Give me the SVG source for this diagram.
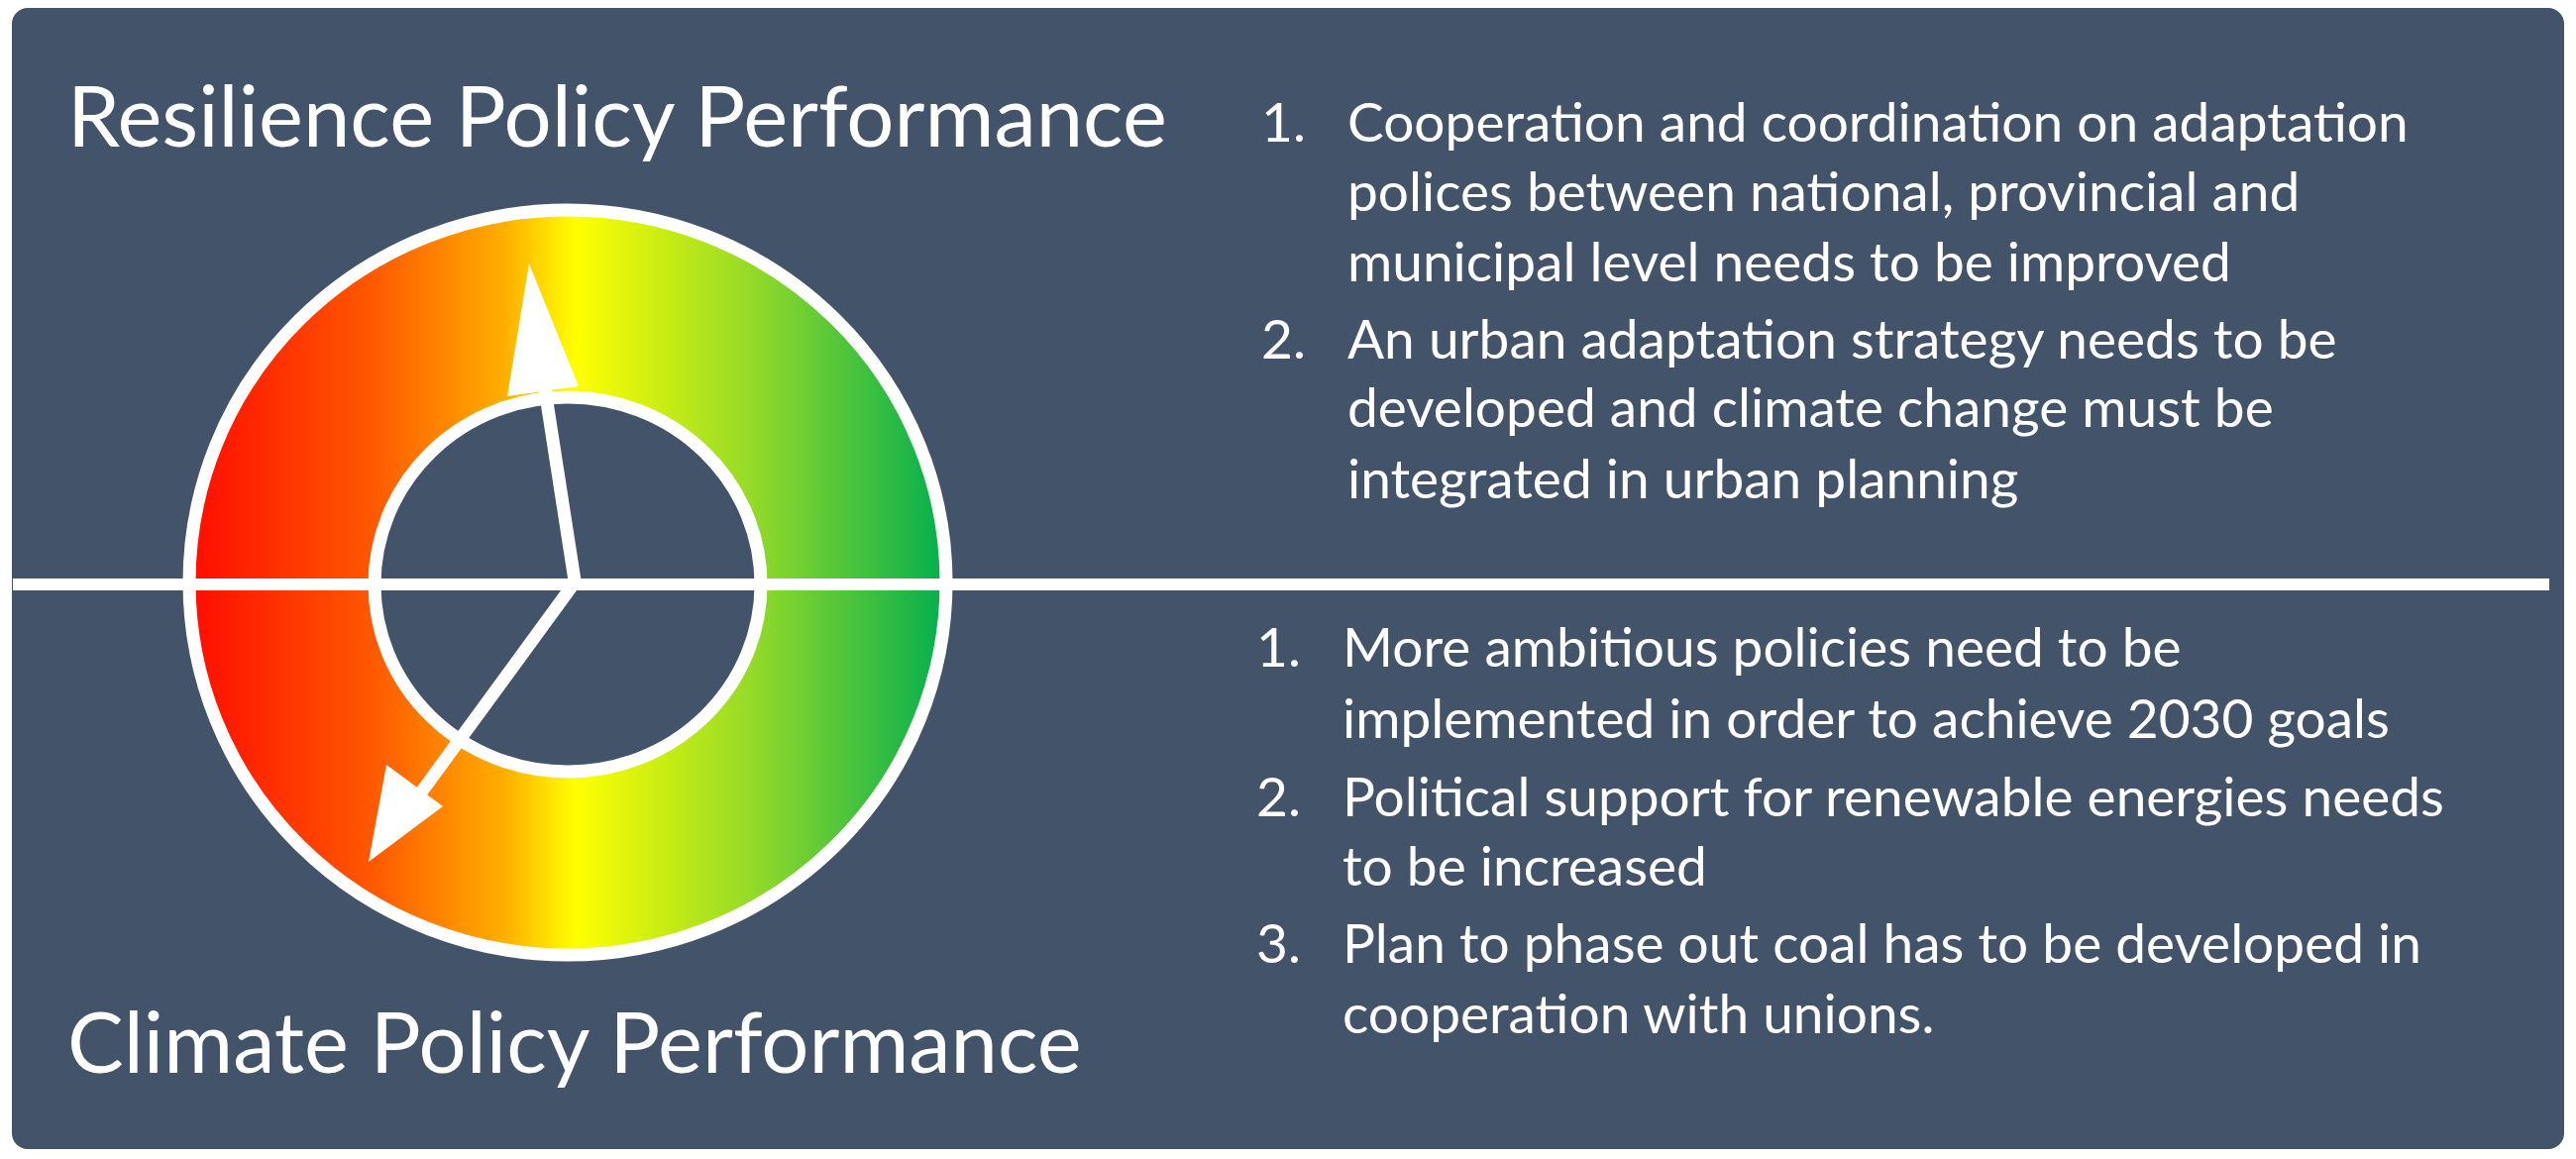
<svg xmlns="http://www.w3.org/2000/svg" width="2600" height="1170" viewBox="0 0 2600 1170">
<style>
.t{font-family:Lato,"Open Sans","Noto Sans",sans-serif;fill:#fff}
.h{font-size:85px}
.b{font-size:55px}
.w{fill:none;stroke:#fff;stroke-width:13}
</style>
<defs>
<linearGradient id="g" x1="186" y1="0" x2="960" y2="0" gradientUnits="userSpaceOnUse">
<stop offset="0" stop-color="#ff0a00"/>
<stop offset="0.25" stop-color="#ff5a00"/>
<stop offset="0.42" stop-color="#ffb000"/>
<stop offset="0.51" stop-color="#ffff00"/>
<stop offset="0.75" stop-color="#8fd82a"/>
<stop offset="1" stop-color="#00ad4f"/>
</linearGradient>
</defs>
<rect x="12" y="8" width="2576" height="1152" rx="16" fill="#435369"/>
<g id="gauge">
<path fill="url(#g)" fill-rule="evenodd" d="M195,588 a378,372 0 1,0 756,0 a378,372 0 1,0 -756,0 Z M380,590 a193,187 0 1,0 386,0 a193,187 0 1,0 -386,0 Z"/>
<ellipse class="w" cx="573" cy="588" rx="382" ry="376"/>
<ellipse class="w" cx="573" cy="590" rx="195" ry="189"/>
</g>
<g id="connectors">
<line x1="13" y1="590" x2="2573" y2="590" stroke="#fff" stroke-width="12"/>
<line x1="580" y1="586" x2="548" y2="380" stroke="#fff" stroke-width="13"/>
<polygon points="534,266 512,400 584,390" fill="#fff"/>
<line x1="577" y1="592" x2="425" y2="800" stroke="#fff" stroke-width="13"/>
<polygon points="372,870 390,772 447,814" fill="#fff"/>
</g>
<g id="title-top"><text class="t h" x="68" y="148">Resilience Policy Performance</text></g>
<g id="title-bottom"><text class="t h" x="68" y="1083">Climate Policy Performance</text></g>
<g id="list-top" class="t b">
<text x="1273" y="143">1.</text>
<text x="1360" y="143">Cooperation and coordination on adaptation</text>
<text x="1360" y="213">polices between national, provincial and</text>
<text x="1360" y="284">municipal level needs to be improved</text>
<text x="1273" y="362">2.</text>
<text x="1360" y="362">An urban adaptation strategy needs to be</text>
<text x="1360" y="431">developed and climate change must be</text>
<text x="1360" y="503">integrated in urban planning</text>
</g>
<g id="list-bottom" class="t b">
<text x="1268" y="673">1.</text>
<text x="1355" y="673">More ambitious policies need to be</text>
<text x="1355" y="745">implemented in order to achieve 2030 goals</text>
<text x="1268" y="824">2.</text>
<text x="1355" y="824">Political support for renewable energies needs</text>
<text x="1355" y="894">to be increased</text>
<text x="1268" y="972">3.</text>
<text x="1355" y="972">Plan to phase out coal has to be developed in</text>
<text x="1355" y="1043">cooperation with unions.</text>
</g>
</svg>
